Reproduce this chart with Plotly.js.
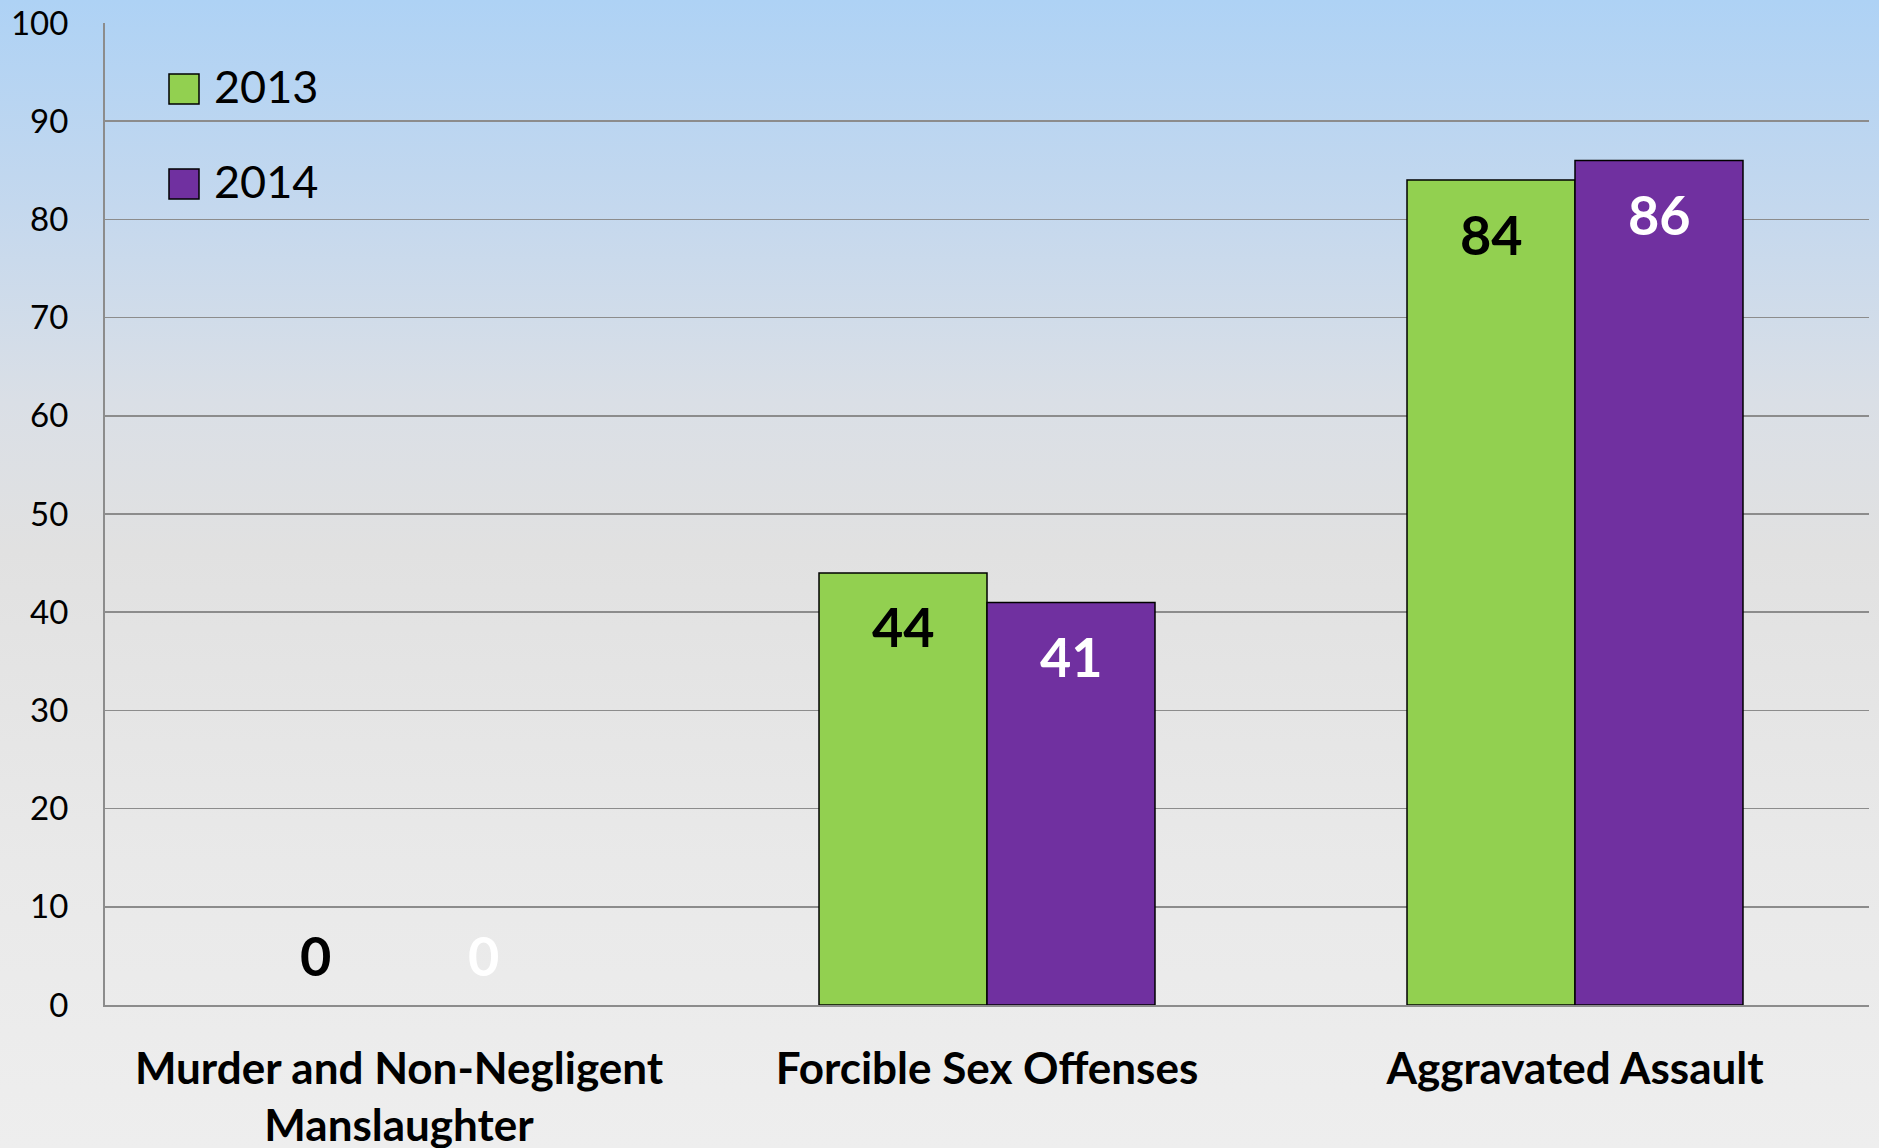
<!DOCTYPE html>
<html>
<head>
<meta charset="utf-8">
<script src="https://cdn.plot.ly/plotly-3.0.1.min.js"></script>
<style>
  html, body { margin: 0; padding: 0; }
  body {
    width: 1879px; height: 1148px; overflow: hidden;
    background: linear-gradient(to bottom, #AED2F5 0%, #C4D8EE 18%, #DADFE6 35%, #E1E1E1 48%, #E9E9E9 75%, #EEEEEE 100%);
  }
  #chart { width: 1879px; height: 1148px; }
</style>
</head>
<body>
<div id="chart"></div>
<script>
const categories = ["Murder and Non-Negligent<br>Manslaughter", "Forcible Sex Offenses", "Aggravated Assault"];
const seriesNames = ["2013", "2014"];
const values2013 = [0, 44, 84];
const values2014 = [0, 41, 86];
const yTicks = [0, 10, 20, 30, 40, 50, 60, 70, 80, 90, 100];

const colors = ["#92D050", "#7030A0"];
const labelColors = ["#000000", "#FFFFFF"];
const FONT = "Lato, 'Open Sans', sans-serif";
const allSeries = [values2013, values2014];

const traces = allSeries.map((vals, i) => ({
  type: "bar",
  name: seriesNames[i],
  x: categories,
  y: vals,
  marker: { color: colors[i], line: { color: "#000000", width: vals.map(v => v > 0 ? 1.5 : 0) } },
  showlegend: false,
  hoverinfo: "skip"
}));

// data labels from the series values
const annotations = [];
const barShift = 84;
allSeries.forEach((vals, i) => {
  vals.forEach((v, j) => {
    annotations.push({
      xref: "x", yref: "y", x: categories[j], y: v,
      text: String(v), showarrow: false,
      xshift: (i === 0 ? -barShift : barShift),
      yshift: v > 0 ? -54 : 50,
      yanchor: "middle", xanchor: "center",
      font: { family: FONT, size: 54, color: labelColors[i], weight: "bold" }
    });
  });
});

// custom legend
const shapes = [];
seriesNames.forEach((name, i) => {
  const yc = 89 + i * 95;
  shapes.push({
    type: "rect", xref: "paper", yref: "paper",
    x0: (169 - 105) / 1764, x1: (199 - 105) / 1764,
    y0: (1005 - (yc + 15)) / 982, y1: (1005 - (yc - 15)) / 982,
    fillcolor: colors[i], line: { color: "#000000", width: 1.5 }
  });
  annotations.push({
    xref: "paper", yref: "paper",
    x: (212 - 105) / 1764, y: (1005 - yc) / 982,
    xanchor: "left", yanchor: "middle", showarrow: false, yshift: 3,
    text: name, font: { family: FONT, size: 45, color: "#000000" }
  });
});

const layout = {
  width: 1879, height: 1148,
  margin: { l: 105, r: 10, t: 23, b: 143, pad: 0 },
  paper_bgcolor: "rgba(0,0,0,0)",
  plot_bgcolor: "rgba(0,0,0,0)",
  barmode: "group",
  bargap: 0.4286,
  bargroupgap: 0,
  showlegend: false,
  xaxis: {
    type: "category",
    showline: true, linecolor: "#8C8C8C", linewidth: 2,
    showgrid: false, ticks: "",
    ticklabelstandoff: 24,
    tickfont: { family: FONT, size: 44, color: "#000000", weight: "bold" }
  },
  yaxis: {
    range: [0, 100], tickvals: yTicks, ticktext: yTicks.map(String),
    showline: true, linecolor: "#8C8C8C", linewidth: 2,
    showgrid: true, gridcolor: "#8C8C8C", gridwidth: 1.5,
    zeroline: false, ticks: "",
    ticklabelstandoff: 28,
    tickfont: { family: FONT, size: 33, color: "#000000" }
  },
  shapes: shapes,
  annotations: annotations
};

Plotly.newPlot("chart", traces, layout, { staticPlot: true, displayModeBar: false });
</script>
</body>
</html>
